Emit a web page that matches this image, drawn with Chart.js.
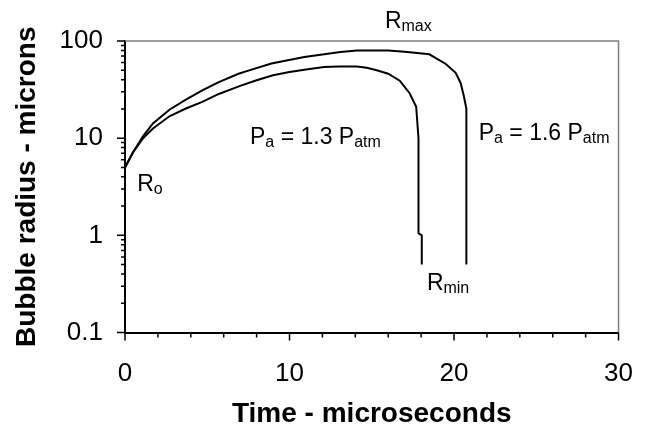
<!DOCTYPE html>
<html>
<head>
<meta charset="utf-8">
<script src="https://cdn.jsdelivr.net/npm/chart.js@4.4.1/dist/chart.umd.min.js"></script>
<style>
  html, body { margin: 0; padding: 0; background: #fff; }
  canvas { display: block; }
</style>
</head>
<body>
<canvas id="bubbleChart" width="659" height="439"></canvas>
<script>
// bubble radius (microns) vs time (microseconds)
var time13 = [0, 0.5, 1.1, 1.7, 2.7, 3.7, 4.7, 5.7, 7.0, 8.0, 9.0, 10.0, 11.0, 12.1, 13.0, 14.1, 14.7, 15.3, 16.0, 16.7, 17.3, 17.7, 17.84, 17.84, 18.04, 18.04];
var radius13 = [5, 7.2, 10.0, 12.6, 16.8, 20.2, 23.6, 28.5, 34.5, 39.5, 44.4, 48, 50.8, 54, 54.5, 54.5, 53, 50, 46, 39, 29, 21, 10, 1.05, 1.0, 0.5];

var time16 = [0, 0.5, 1.1, 1.7, 2.7, 3.7, 4.7, 5.7, 6.9, 7.4, 8.9, 10.9, 13.1, 14.1, 16.0, 17.0, 18.5, 19.5, 20.1, 20.4, 20.6, 20.75, 20.75];
var radius16 = [5, 7.2, 10.5, 14.2, 19.6, 24.9, 31, 37.8, 46, 49, 58.6, 68.4, 77, 80, 80, 77.5, 73, 58, 47, 37, 27, 20, 0.5];

var xLabels = [0, 10, 20, 30];
var yLabels = [0.1, 1, 10, 100];

// text notes, placed in data units; sub = 1 means subscript
var notes = [
  {x: 15.8, y: 135, parts: [['R', 0], ['max', 1]]},
  {x: 0.74, y: 2.85, parts: [['R', 0], ['o', 1]]},
  {x: 7.6, y: 8.8, parts: [['P', 0], ['a', 1], [' = 1.3 P', 0], ['atm', 1]]},
  {x: 21.5, y: 9.5, parts: [['P', 0], ['a', 1], [' = 1.6 P', 0], ['atm', 1]]},
  {x: 18.35, y: 0.273, parts: [['R', 0], ['min', 1]]}
];

var FONT = "'Liberation Sans', Arial, sans-serif";

function toPoints(xs, ys){
  return xs.map(function(v, i){ return {x: v, y: ys[i]}; });
}

function isLabel(list, v){
  for (var i = 0; i < list.length; i++) {
    if (Math.abs(list[i] - v) < 1e-9 * Math.max(1, v)) return true;
  }
  return false;
}

// tick marks, gray frame and the text notes
var decorPlugin = {
  id: 'decor',
  afterDraw: function(chart){
    var ctx = chart.ctx;
    var area = chart.chartArea;
    var xs = chart.scales.x, ys = chart.scales.y;
    ctx.save();

    // gray frame on top and right
    ctx.strokeStyle = '#808080';
    ctx.lineWidth = 1.5;
    ctx.beginPath();
    ctx.moveTo(area.left, area.top);
    ctx.lineTo(area.right, area.top);
    ctx.lineTo(area.right, area.bottom);
    ctx.stroke();

    ctx.strokeStyle = '#000';
    ctx.lineWidth = 1.5;
    ctx.beginPath();
    // x ticks every 2, long ones at the labels
    for (var t = 0; t <= 30; t += 2) {
      var px = xs.getPixelForValue(t);
      var len = isLabel(xLabels, t) ? 8 : 5;
      ctx.moveTo(px, area.bottom);
      ctx.lineTo(px, area.bottom + len);
    }
    ctx.moveTo(xs.getPixelForValue(30), area.bottom);
    ctx.lineTo(xs.getPixelForValue(30), area.bottom + 8);
    // y ticks, log minors 2..9
    for (var e = -1; e <= 2; e++) {
      for (var s = 1; s <= 9; s++) {
        var v = s * Math.pow(10, e);
        if (v > 100.0001) break;
        var py = ys.getPixelForValue(v);
        var l = s === 1 ? 8 : 4;
        ctx.moveTo(area.left, py);
        ctx.lineTo(area.left - l, py);
      }
    }
    ctx.stroke();

    // notes with subscripts
    ctx.fillStyle = '#000';
    ctx.textBaseline = 'alphabetic';
    ctx.textAlign = 'left';
    notes.forEach(function(n){
      var x = xs.getPixelForValue(n.x);
      var y = ys.getPixelForValue(n.y);
      n.parts.forEach(function(p){
        if (p[1]) {
          ctx.font = '16px ' + FONT;
          ctx.fillText(p[0], x, y + 3);
        } else {
          ctx.font = '23px ' + FONT;
          ctx.fillText(p[0], x, y);
        }
        x += ctx.measureText(p[0]).width;
      });
    });
    ctx.restore();
  }
};

var ctx = document.getElementById('bubbleChart').getContext('2d');
var bubbleChart = new Chart(ctx, {
  type: 'line',
  plugins: [decorPlugin],
  data: {
    datasets: [{
      label: 'Pa = 1.3 Patm',
      data: toPoints(time13, radius13),
      borderColor: '#000',
      borderWidth: 2,
      pointRadius: 0,
      tension: 0,
      fill: false
    },{
      label: 'Pa = 1.6 Patm',
      data: toPoints(time16, radius16),
      borderColor: '#000',
      borderWidth: 2,
      pointRadius: 0,
      tension: 0,
      fill: false
    }]
  },
  options: {
    responsive: false,
    animation: false,
    layout: {
      padding: {left: 0, right: 31, top: 41, bottom: 0}
    },
    scales: {
      x: {
        type: 'linear',
        min: 0,
        max: 30,
        afterFit: function(scale){ scale.height = 106.5; },
        ticks: {
          stepSize: 10,
          autoSkip: false,
          maxRotation: 0,
          padding: 26,
          color: '#000',
          font: {family: FONT, size: 26},
          callback: function(v){ return isLabel(xLabels, v) ? String(v) : ''; }
        },
        grid: {display: false, drawTicks: false},
        border: {display: true, color: '#000', width: 2},
        title: {
          display: true,
          text: 'Time - microseconds',
          color: '#000',
          font: {family: FONT, size: 28, weight: 'bold'},
          padding: {top: 0, bottom: 8}
        }
      },
      y: {
        type: 'logarithmic',
        min: 0.1,
        max: 100,
        afterFit: function(scale){ scale.width = 125; },
        ticks: {
          autoSkip: false,
          padding: 22,
          color: '#000',
          font: {family: FONT, size: 26},
          callback: function(v){ return isLabel(yLabels, v) ? String(v) : ''; }
        },
        grid: {display: false, drawTicks: false},
        border: {display: true, color: '#000', width: 2},
        title: {
          display: true,
          text: 'Bubble radius - microns',
          color: '#000',
          font: {family: FONT, size: 28, weight: 'bold'},
          padding: {top: 10, bottom: 0}
        }
      }
    },
    plugins: {
      legend: {display: false},
      title: {display: false},
      tooltip: {enabled: false}
    }
  }
});
</script>
</body>
</html>
